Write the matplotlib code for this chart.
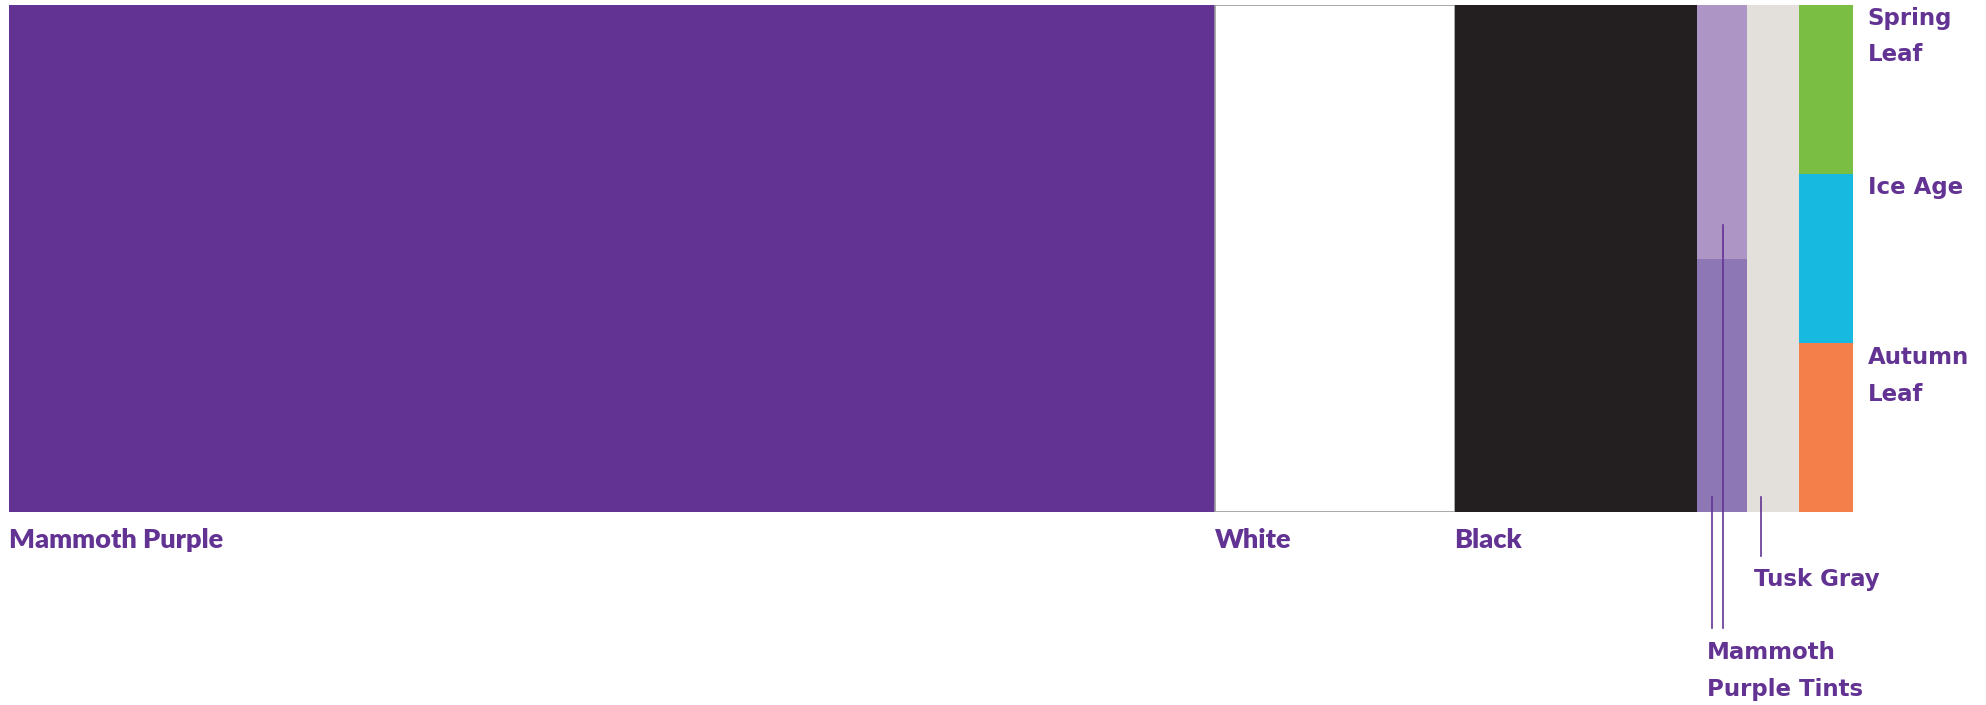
import matplotlib
matplotlib.use('Agg')
import matplotlib.pyplot as plt
from matplotlib.patches import Rectangle

# palette shares (percent of the strip width)
names = ['Mammoth Purple', 'White', 'Black', 'Mammoth Purple Tints', 'Tusk Gray', 'Accents']
widths = [65.4, 12.99, 13.13, 2.75, 2.82, 2.89]
colors = ['#633393', '#FFFFFF', '#231F20', None, '#E3E0DB', None]

# stacked columns
tint_colors = ['#8D77B5', '#AD96C6']          # bottom, top
tint_shares = [0.5, 0.5]
accent_names = ['Autumn\nLeaf', 'Ice Age', 'Spring\nLeaf']   # bottom -> top
accent_colors = ['#F47F4A', '#18B9E0', '#7ABF43']
accent_shares = [1/3, 1/3, 1/3]

label_color = '#633393'

fig = plt.figure(figsize=(19.86, 7.05), dpi=100)
ax = fig.add_axes([9/1986, 1 - 512/705, 1844/1986, 507/705])
ax.set_xlim(0, 100)
ax.set_ylim(0, 1)
ax.axis('off')

starts = []
x = 0
for w in widths:
    starts.append(x)
    x += w

for i, (s, w, c) in enumerate(zip(starts, widths, colors)):
    if names[i] == 'Mammoth Purple Tints':
        y = 0
        for sh, tc in zip(tint_shares, tint_colors):
            ax.add_patch(Rectangle((s, y), w, sh, facecolor=tc, edgecolor='none'))
            y += sh
    elif names[i] == 'Accents':
        y = 0
        for sh, ac in zip(accent_shares, accent_colors):
            ax.add_patch(Rectangle((s, y), w, sh, facecolor=ac, edgecolor='none'))
            y += sh
    elif c == '#FFFFFF':
        ax.add_patch(Rectangle((s, 0), w, 1, facecolor=c, edgecolor='#9A9A9A', lw=1.2))
    else:
        ax.add_patch(Rectangle((s, 0), w, 1, facecolor=c, edgecolor='none'))

# labels under the big bars
for i in range(3):
    ax.text(starts[i], -0.055, names[i], color=label_color, fontsize=19.5,
            fontweight='heavy', family='Lato', ha='left', va='center', clip_on=False)

# accent labels to the right
centers = [0.268, 0.641, 0.938]
for nm, cy in zip(accent_names, centers):
    ax.text(starts[5] + widths[5] + 0.82, cy, nm, color=label_color, fontsize=16.5,
            fontweight='bold', family='DejaVu Sans', ha='left', va='center',
            linespacing=1.75, clip_on=False)

# leader lines
lk = dict(color=label_color, lw=1.2, clip_on=False)
ts, tw = starts[3], widths[3]
ax.plot([ts + 0.3 * tw] * 2, [0.03, -0.229], **lk)
ax.plot([ts + 0.525 * tw] * 2, [0.566, -0.229], **lk)
gs, gw = starts[4], widths[4]
ax.plot([gs + 0.27 * gw] * 2, [0.03, -0.087], **lk)

ax.text(gs + 0.12 * gw, -0.134, 'Tusk Gray', color=label_color, fontsize=16.5,
        fontweight='bold', family='DejaVu Sans', ha='left', va='center', clip_on=False)
ax.text(ts + 0.2 * tw, -0.314, 'Mammoth\nPurple Tints', color=label_color, fontsize=16.5,
        fontweight='bold', family='DejaVu Sans', ha='left', va='center',
        linespacing=1.75, clip_on=False)

fig.savefig('out.png', dpi=100, facecolor='white')
